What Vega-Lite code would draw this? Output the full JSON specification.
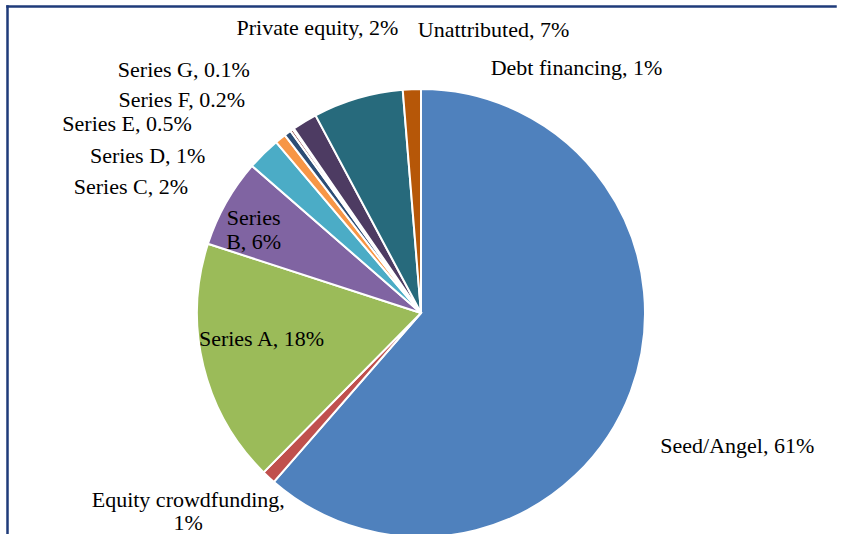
{
  "$schema": "https://vega.github.io/schema/vega-lite/v6.json",
  "width": 828,
  "height": 614,
  "autosize": {"type": "none"},
  "padding": {"left": 7, "top": 6, "right": 19, "bottom": -86},
  "background": "white",
  "config": {"view": {"stroke": null}},
  "data": {
    "values": [
      {"idx": 1, "key": "Seed/Angel", "value": 61.4, "label": "Seed/Angel, 61%"},
      {"idx": 2, "key": "Equity crowdfunding", "value": 1.0, "label": "Equity crowdfunding,\n1%"},
      {"idx": 3, "key": "Series A", "value": 17.6, "label": "Series A, 18%"},
      {"idx": 4, "key": "Series B", "value": 6.4, "label": "Series\nB, 6%"},
      {"idx": 5, "key": "Series C", "value": 2.4, "label": "Series C, 2%"},
      {"idx": 6, "key": "Series D", "value": 0.8, "label": "Series D, 1%"},
      {"idx": 7, "key": "Series E", "value": 0.5, "label": "Series E, 0.5%"},
      {"idx": 8, "key": "Series F", "value": 0.2, "label": "Series F, 0.2%"},
      {"idx": 9, "key": "Series G", "value": 0.1, "label": "Series G, 0.1%"},
      {"idx": 10, "key": "Private equity", "value": 1.8, "label": "Private equity, 2%"},
      {"idx": 11, "key": "Unattributed", "value": 6.5, "label": "Unattributed, 7%"},
      {"idx": 12, "key": "Debt financing", "value": 1.3, "label": "Debt financing, 1%"}
    ]
  },
  "layer": [
    {
      "encoding": {
        "theta": {"field": "value", "type": "quantitative", "stack": true},
        "order": {"field": "idx", "type": "quantitative"},
        "detail": {"field": "key", "type": "nominal"}
      },
      "layer": [
        {
          "mark": {"type": "arc", "radius": 224, "stroke": "white", "strokeWidth": 2},
          "encoding": {
            "color": {
              "field": "key",
              "type": "nominal",
              "legend": null,
              "scale": {
                "domain": ["Seed/Angel", "Equity crowdfunding", "Series A", "Series B", "Series C", "Series D", "Series E", "Series F", "Series G", "Private equity", "Unattributed", "Debt financing"],
                "range": ["#4F81BD", "#C0504D", "#9BBB59", "#8064A2", "#4BACC6", "#F79646", "#2C4D75", "#772C2A", "#5F7530", "#4D3B62", "#276A7C", "#B65708"]
              }
            }
          }
        },
        {
          "mark": {"type": "text", "radius": 232, "font": "Liberation Serif", "fontSize": 22, "fill": "black", "align": "left", "baseline": "middle", "dx": 22, "dy": 52},
          "encoding": {"text": {"condition": {"test": "datum.key === 'Seed/Angel'", "field": "label"}, "value": ""}}
        },
        {
          "mark": {"type": "text", "radius": 232, "font": "Liberation Serif", "fontSize": 22, "fill": "black", "align": "center", "baseline": "middle", "lineBreak": "\n", "lineHeight": 23, "dx": -75, "dy": 17},
          "encoding": {"text": {"condition": {"test": "datum.key === 'Equity crowdfunding'", "field": "label"}, "value": ""}}
        },
        {
          "mark": {"type": "text", "radius": 160, "font": "Liberation Serif", "fontSize": 22, "fill": "black", "align": "center", "baseline": "middle", "dx": -4, "dy": -12},
          "encoding": {"text": {"condition": {"test": "datum.key === 'Series A'", "field": "label"}, "value": ""}}
        },
        {
          "mark": {"type": "text", "radius": 190, "font": "Liberation Serif", "fontSize": 22, "fill": "black", "align": "center", "baseline": "middle", "lineBreak": "\n", "lineHeight": 24, "dx": -2, "dy": -1},
          "encoding": {"text": {"condition": {"test": "datum.key === 'Series B'", "field": "label"}, "value": ""}}
        },
        {
          "mark": {"type": "text", "radius": 232, "font": "Liberation Serif", "fontSize": 22, "fill": "black", "align": "right", "baseline": "middle", "dx": -70, "dy": 39},
          "encoding": {"text": {"condition": {"test": "datum.key === 'Series C'", "field": "label"}, "value": ""}}
        },
        {
          "mark": {"type": "text", "radius": 232, "font": "Liberation Serif", "fontSize": 22, "fill": "black", "align": "right", "baseline": "middle", "dx": -70, "dy": 24},
          "encoding": {"text": {"condition": {"test": "datum.key === 'Series D'", "field": "label"}, "value": ""}}
        },
        {
          "mark": {"type": "text", "radius": 232, "font": "Liberation Serif", "fontSize": 22, "fill": "black", "align": "right", "baseline": "middle", "dx": -91, "dy": -3},
          "encoding": {"text": {"condition": {"test": "datum.key === 'Series E'", "field": "label"}, "value": ""}}
        },
        {
          "mark": {"type": "text", "radius": 232, "font": "Liberation Serif", "fontSize": 22, "fill": "black", "align": "right", "baseline": "middle", "dx": -42, "dy": -24},
          "encoding": {"text": {"condition": {"test": "datum.key === 'Series F'", "field": "label"}, "value": ""}}
        },
        {
          "mark": {"type": "text", "radius": 232, "font": "Liberation Serif", "fontSize": 22, "fill": "black", "align": "right", "baseline": "middle", "dx": -39, "dy": -52},
          "encoding": {"text": {"condition": {"test": "datum.key === 'Series G'", "field": "label"}, "value": ""}}
        },
        {
          "mark": {"type": "text", "radius": 232, "font": "Liberation Serif", "fontSize": 22, "fill": "black", "align": "center", "baseline": "middle", "dx": 17, "dy": -87},
          "encoding": {"text": {"condition": {"test": "datum.key === 'Private equity'", "field": "label"}, "value": ""}}
        },
        {
          "mark": {"type": "text", "radius": 232, "font": "Liberation Serif", "fontSize": 22, "fill": "black", "align": "center", "baseline": "middle", "dx": 138, "dy": -60},
          "encoding": {"text": {"condition": {"test": "datum.key === 'Unattributed'", "field": "label"}, "value": ""}}
        },
        {
          "mark": {"type": "text", "radius": 232, "font": "Liberation Serif", "fontSize": 22, "fill": "black", "align": "center", "baseline": "middle", "dx": 165, "dy": -13},
          "encoding": {"text": {"condition": {"test": "datum.key === 'Debt financing'", "field": "label"}, "value": ""}}
        }
      ]
    },
    {
      "mark": {"type": "point", "opacity": 0},
      "encoding": {
        "x": {"datum": 0, "type": "quantitative", "scale": {"domain": [0, 1]}, "axis": {"orient": "top", "domainColor": "#1F3B7A", "domainWidth": 2.5, "domainCap": "square", "ticks": false, "labels": false, "grid": false, "title": null}},
        "y": {"datum": 0, "type": "quantitative", "scale": {"domain": [0, 1]}, "axis": {"orient": "left", "domainColor": "#1F3B7A", "domainWidth": 2.5, "domainCap": "square", "ticks": false, "labels": false, "grid": false, "title": null}}
      }
    }
  ]
}
